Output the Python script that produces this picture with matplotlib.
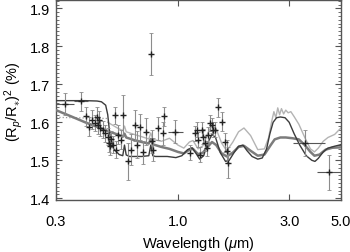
import matplotlib
matplotlib.use("Agg")
import matplotlib.pyplot as plt
from matplotlib.ticker import FixedLocator, MultipleLocator, NullLocator

plt.rcParams.update({
    "font.family": ["Liberation Sans", "DejaVu Sans"],
    "mathtext.fontset": "custom",
    "mathtext.rm": "Liberation Sans",
    "mathtext.it": "Liberation Sans:italic",
    "font.size": 10.5,
})

# --- models (wavelength in micron, transit depth in %) ---
wl_dark = [0.30, 0.40, 0.45, 0.47, 0.49, 0.50, 0.51, 0.53, 0.56, 0.58, 0.59, 0.60,
           0.62, 0.70, 0.75, 0.765, 0.78, 0.80, 0.90, 0.98, 1.04, 1.10, 1.15, 1.19,
           1.24, 1.29, 1.34, 1.40, 1.45, 1.52, 1.60, 1.66, 1.74, 1.82, 1.90, 1.98,
           2.08, 2.20, 2.30, 2.40, 2.48, 2.56, 2.65, 2.75, 2.88, 3.00, 3.15, 3.33,
           3.55, 3.75, 3.87, 4.00, 4.20, 4.40, 4.70, 5.0]
d_dark = [1.657, 1.657, 1.656, 1.654, 1.645, 1.620, 1.570, 1.530, 1.515, 1.512, 1.540, 1.514,
          1.510, 1.510, 1.512, 1.540, 1.512, 1.510, 1.510, 1.507, 1.512, 1.528, 1.533, 1.520,
          1.503, 1.512, 1.545, 1.568, 1.560, 1.520, 1.497, 1.500, 1.520, 1.537, 1.540, 1.525,
          1.510, 1.503, 1.506, 1.530, 1.570, 1.600, 1.612, 1.614, 1.612, 1.600, 1.570, 1.540,
          1.512, 1.500, 1.497, 1.505, 1.522, 1.532, 1.537, 1.541]

wl_mid = [0.30, 0.35, 0.40, 0.45, 0.50, 0.55, 0.58, 0.59, 0.60, 0.65, 0.70, 0.75,
          0.765, 0.78, 0.85, 0.92, 1.00, 1.06, 1.12, 1.16, 1.22, 1.28, 1.34, 1.40,
          1.46, 1.54, 1.62, 1.72, 1.82, 1.92, 2.05, 2.20, 2.35, 2.50, 2.60, 2.75,
          2.90, 3.10, 3.30, 3.50, 3.70, 3.85, 4.05, 4.30, 4.60, 5.0]
d_mid = [1.632, 1.615, 1.600, 1.588, 1.577, 1.568, 1.562, 1.570, 1.560, 1.553, 1.548, 1.544,
         1.556, 1.542, 1.535, 1.530, 1.522, 1.518, 1.528, 1.530, 1.516, 1.520, 1.535, 1.548,
         1.540, 1.518, 1.510, 1.520, 1.535, 1.538, 1.525, 1.512, 1.515, 1.540, 1.555, 1.560,
         1.560, 1.558, 1.555, 1.540, 1.522, 1.512, 1.515, 1.528, 1.533, 1.534]

wl_light = [0.50, 0.55, 0.58, 0.59, 0.60, 0.65, 0.70, 0.75, 0.765, 0.78, 0.85, 0.92,
            1.00, 1.06, 1.12, 1.16, 1.22, 1.28, 1.34, 1.40, 1.46, 1.54, 1.62, 1.72,
            1.82, 1.92, 2.05, 2.20, 2.35, 2.45, 2.52, 2.58, 2.63, 2.68, 2.73, 2.78,
            2.84, 2.90, 2.97, 3.05, 3.15, 3.30, 3.50, 3.70, 3.85, 4.00, 4.20, 4.40,
            4.70, 5.0]
d_light = [1.600, 1.585, 1.578, 1.590, 1.575, 1.568, 1.562, 1.556, 1.572, 1.555, 1.550, 1.558,
           1.540, 1.532, 1.548, 1.552, 1.530, 1.538, 1.570, 1.592, 1.582, 1.545, 1.525, 1.548,
           1.575, 1.585, 1.565, 1.528, 1.530, 1.560, 1.600, 1.628, 1.612, 1.638, 1.620, 1.636,
           1.622, 1.632, 1.625, 1.628, 1.615, 1.595, 1.560, 1.530, 1.522, 1.532, 1.550, 1.560,
           1.568, 1.585]

wl_dot = [0.30, 0.50]
d_dot = [1.613, 1.610]

# --- observations ---
obs_wl = [0.328, 0.384, 0.403, 0.416, 0.430, 0.441, 0.449, 0.455, 0.460, 0.463,
          0.475, 0.487, 0.499, 0.507, 0.510, 0.516, 0.528, 0.539, 0.545, 0.553,
          0.571, 0.581, 0.612, 0.631, 0.652, 0.665, 0.685, 0.708, 0.731, 0.775,
          0.780, 0.821, 0.865, 0.871, 0.968, 0.770,
          1.126, 1.180, 1.203, 1.222, 1.243, 1.264, 1.284, 1.306, 1.328, 1.349,
          1.372, 1.395, 1.418, 1.442, 1.489, 1.539, 1.590, 1.618, 1.640,
          3.51, 4.46]
obs_d = [1.648, 1.655, 1.616, 1.588, 1.607, 1.598, 1.614, 1.592, 1.607, 1.585,
         1.581, 1.571, 1.562, 1.545, 1.537, 1.556, 1.541, 1.618, 1.528, 1.567,
         1.554, 1.618, 1.497, 1.528, 1.592, 1.541, 1.588, 1.521, 1.575, 1.550,
         1.528, 1.584, 1.571, 1.616, 1.575, 1.780,
         1.520, 1.571, 1.580, 1.554, 1.515, 1.580, 1.562, 1.545, 1.532, 1.567,
         1.598, 1.592, 1.580, 1.580, 1.640, 1.601, 1.547, 1.524, 1.494,
         1.545, 1.468]
obs_err = [0.030, 0.025, 0.025, 0.025, 0.025, 0.022, 0.025, 0.022, 0.022, 0.022,
           0.022, 0.022, 0.022, 0.022, 0.022, 0.022, 0.022, 0.022, 0.022, 0.025,
           0.025, 0.055, 0.048, 0.040, 0.040, 0.035, 0.035, 0.030, 0.035, 0.030,
           0.030, 0.030, 0.030, 0.025, 0.030, 0.055,
           0.020, 0.020, 0.020, 0.020, 0.020, 0.020, 0.020, 0.020, 0.020, 0.020,
           0.020, 0.020, 0.020, 0.020, 0.025, 0.025, 0.025, 0.030, 0.040,
           0.035, 0.045]
obs_xlo = [0.028, 0.024, 0.006, 0.006, 0.006, 0.006, 0.006, 0.006, 0.006, 0.006,
           0.006, 0.006, 0.006, 0.006, 0.006, 0.006, 0.006, 0.006, 0.006, 0.006,
           0.008, 0.008, 0.008, 0.008, 0.010, 0.010, 0.010, 0.010, 0.010, 0.010,
           0.010, 0.010, 0.010, 0.010, 0.060, 0.008,
           0.010, 0.010, 0.010, 0.010, 0.010, 0.010, 0.010, 0.010, 0.010, 0.010,
           0.010, 0.010, 0.010, 0.010, 0.010, 0.010, 0.010, 0.010, 0.010,
           0.400, 0.530]
obs_xhi = [0.032, 0.026, 0.006, 0.006, 0.006, 0.006, 0.006, 0.006, 0.006, 0.006,
           0.006, 0.006, 0.006, 0.006, 0.006, 0.006, 0.006, 0.006, 0.006, 0.006,
           0.008, 0.008, 0.008, 0.008, 0.010, 0.010, 0.010, 0.010, 0.010, 0.010,
           0.010, 0.010, 0.010, 0.010, 0.080, 0.008,
           0.010, 0.010, 0.010, 0.010, 0.010, 0.010, 0.010, 0.010, 0.010, 0.010,
           0.010, 0.010, 0.010, 0.010, 0.010, 0.010, 0.010, 0.010, 0.010,
           0.760, 0.500]

fig = plt.figure(figsize=(3.5, 2.53), dpi=100)
ax = fig.add_axes([0.16, 0.205, 0.814, 0.791])

ax.plot(wl_light, d_light, color="#b4b4b4", lw=1.0, zorder=2)
ax.plot(wl_dot, d_dot, color="#9a9a9a", lw=0.9, ls=":", zorder=2)
ax.plot(wl_mid, d_mid, color="#7c7c7c", lw=1.8, zorder=3)
ax.plot(wl_dark, d_dark, color="#3c3c3c", lw=1.0, zorder=4)

ax.errorbar(obs_wl, obs_d, yerr=obs_err, fmt="none", ecolor="#8c8c8c",
            elinewidth=0.8, capsize=1.5, capthick=0.6, zorder=5)
ax.errorbar(obs_wl, obs_d, xerr=[obs_xlo, obs_xhi], fmt="+", color="#222222",
            ecolor="#555555", elinewidth=0.8, ms=5, mew=1.0, zorder=6)

ax.set_xscale("log")
ax.set_xlim(0.3, 5.0)
ax.set_ylim(1.395, 1.922)
ax.xaxis.set_major_locator(FixedLocator([0.3, 1.0, 3.0, 5.0]))
ax.set_xticklabels(["0.3", "1.0", "3.0", "5.0"])
ax.xaxis.set_minor_locator(NullLocator())
ax.yaxis.set_major_locator(MultipleLocator(0.1))
ax.yaxis.set_minor_locator(MultipleLocator(0.01))
ax.tick_params(which="both", direction="in", top=True, right=True, color="#555555")
ax.tick_params(which="major", length=4, width=0.8)
ax.tick_params(which="minor", length=2, width=0.6)
ax.tick_params(axis="x", which="major", pad=10)
ax.tick_params(axis="y", which="major", pad=4)
for s in ax.spines.values():
    s.set_color("#555555")
    s.set_linewidth(1.0)

ax.set_xlabel(r"Wavelength ($\mu$m)", labelpad=4)
ax.set_ylabel(r"(R$_{p}$/R$_{\ast}$)$^{2}$ (%)", labelpad=4)

fig.savefig("out.png", dpi=100)
